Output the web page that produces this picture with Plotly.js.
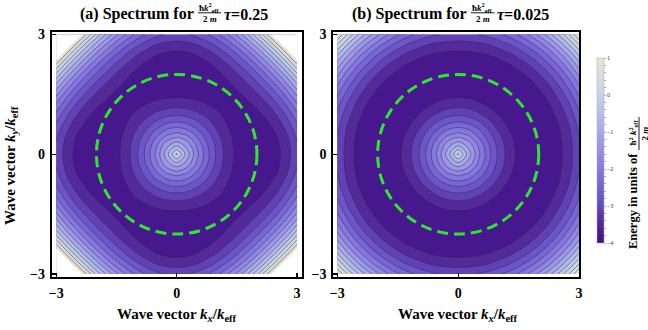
<!DOCTYPE html>
<html>
<head>
<meta charset="utf-8">
<script src="https://cdn.plot.ly/plotly-3.0.1.min.js"></script>
<style>
html, body { margin: 0; padding: 0; background: #ffffff; }
#chart { width: 648px; height: 330px; }
</style>
</head>
<body>
<div id="chart"></div>
<script>
// ---------------- data ----------------
// grid of one quadrant, wave vector in units of k_eff (mirrored to the other quadrants)
const kQuadrant = [0, 0.25, 0.5, 0.75, 1, 1.25, 1.5, 1.75, 2, 2.25, 2.5, 2.75, 3];

// energy (units of hbar^2 k_eff^2 / 2m), row i = larger |k| index, column j <= i
// panel (a): tau = 0.25
const energyPanelA = [
  [0],
  [-0.94, -1.29],
  [-1.75, -1.92, -2.32],
  [-2.44, -2.53, -2.78, -3.09],
  [-3.00, -3.05, -3.20, -3.39, -3.58],
  [-3.44, -3.47, -3.54, -3.64, -3.73, -3.79],
  [-3.75, -3.76, -3.79, -3.81, -3.82, -3.80, -3.71],
  [-3.94, -3.93, -3.92, -3.89, -3.83, -3.72, -3.56, -3.33],
  [-4.00, -3.99, -3.94, -3.86, -3.74, -3.57, -3.33, -3.03, -2.64],
  [-3.94, -3.91, -3.84, -3.72, -3.55, -3.31, -3.01, -2.63, -2.17, -1.62],
  [-3.75, -3.72, -3.63, -3.47, -3.25, -2.96, -2.59, -2.14, -1.60, -0.97, -0.25],
  [-3.44, -3.40, -3.29, -3.10, -2.84, -2.49, -2.06, -1.54, -0.93, -0.22, 0.58, 1.49],
  [-3.00, -2.96, -2.83, -2.61, -2.31, -1.91, -1.42, -0.84, -0.16, 0.63, 1.51, 2.51, 3.61]
];
// panel (b): tau = 0.025
const energyPanelB = [
  [0],
  [-0.94, -1.29],
  [-1.75, -1.92, -2.33],
  [-2.44, -2.54, -2.79, -3.12],
  [-3.00, -3.06, -3.22, -3.44, -3.66],
  [-3.44, -3.47, -3.57, -3.71, -3.84, -3.95],
  [-3.75, -3.77, -3.82, -3.90, -3.96, -4.00, -3.99],
  [-3.94, -3.95, -3.97, -3.99, -4.00, -3.98, -3.91, -3.77],
  [-4.00, -4.00, -4.00, -3.98, -3.94, -3.87, -3.75, -3.57, -3.31],
  [-3.94, -3.93, -3.91, -3.86, -3.79, -3.67, -3.50, -3.28, -2.98, -2.60],
  [-3.75, -3.74, -3.70, -3.63, -3.52, -3.37, -3.16, -2.89, -2.56, -2.14, -1.64],
  [-3.44, -3.42, -3.37, -3.28, -3.14, -2.96, -2.72, -2.41, -2.04, -1.59, -1.05, -0.43],
  [-3.00, -2.98, -2.92, -2.81, -2.65, -2.44, -2.17, -1.83, -1.42, -0.94, -0.37, 0.28, 1.03]
];

const panelLetters = ['(a)', '(b)'];
const tauLabels = ['0.25', '0.025'];
const ringRadius = [2];
const axisTicks = [-3, 0, 3];
const axisTickText = ['\u22123', '0', '3'];
const colorbarRange = [-4, 1];
const contourCount = 13;               // contour lines evenly spread inside the plotted energy range
const clipLevel = [1];
const colorbarTicks = [-4, -3.8, -3.6, -3.4, -3.2, -3, -2.8, -2.6, -2.4, -2.2, -2, -1.8, -1.6, -1.4, -1.2, -1,
                       -0.8, -0.6, -0.4, -0.2, 0, 0.2, 0.4, 0.6, 0.8, 1];
const colorbarLabeled = [-4, -3, -2, -1, 0, 1];

// colour palette (value -> colour)
const palette = [
  [-4.0, '#410e88'], [-3.5, '#532897'], [-3.0, '#6448bf'], [-2.5, '#7561d2'],
  [-2.0, '#8679e0'], [-1.5, '#968fe6'], [-1.0, '#a6a8ea'], [-0.5, '#b5bee9'],
  [0.0, '#c5d3e6'], [0.5, '#d8dcdb'], [1.0, '#efe2c8']
];

// ---------------- helpers ----------------
const W = 648, H = 330;
const FONT = 'Liberation Serif';
const px = v => v / W;
const py = v => 1 - v / H;

const levelStep = (colorbarRange[1] - colorbarRange[0]) / (contourCount + 1);
const levelStart = colorbarRange[0] + levelStep;
const levelEnd = colorbarRange[1] - levelStep;

function hexToRgb(h) {
  return [parseInt(h.slice(1, 3), 16), parseInt(h.slice(3, 5), 16), parseInt(h.slice(5, 7), 16)];
}
function paletteAt(v) {
  if (v <= palette[0][0]) return palette[0][1];
  for (let i = 1; i < palette.length; i++) {
    if (v <= palette[i][0]) {
      const v0 = palette[i - 1][0], v1 = palette[i][0];
      const a = hexToRgb(palette[i - 1][1]), b = hexToRgb(palette[i][1]);
      const f = (v - v0) / (v1 - v0);
      return 'rgb(' + a.map((x, k) => Math.round(x + (b[k] - x) * f)).join(',') + ')';
    }
  }
  return palette[palette.length - 1][1];
}

// mirror the quadrant triangle into the full grid
const nQ = kQuadrant.length;
const kFull = kQuadrant.slice(1).reverse().map(v => -v).concat(kQuadrant);
function fullGrid(tri) {
  const z = [];
  for (let r = 0; r < 2 * nQ - 1; r++) {
    const iy = Math.abs(r - (nQ - 1));
    const row = [];
    for (let c = 0; c < 2 * nQ - 1; c++) {
      const ix = Math.abs(c - (nQ - 1));
      row.push(tri[Math.max(ix, iy)][Math.min(ix, iy)]);
    }
    z.push(row);
  }
  return z;
}

// band colours: each band takes the palette colour at its mid value
const nLevels = Math.round((levelEnd - levelStart) / levelStep) + 1;
const contourScale = [];
for (let j = 0; j <= nLevels; j++) {
  contourScale.push([j / nLevels, paletteAt(levelStart + (j - 0.5) * levelStep)]);
}
const barScale = palette.map(p => [(p[0] - colorbarRange[0]) / (colorbarRange[1] - colorbarRange[0]), p[1]]);
const clipScale = [[0, 'rgba(255,255,255,0)'], [0.5, 'rgba(255,255,255,0)'], [0.5, 'rgb(255,255,255)'], [1, 'rgb(255,255,255)']];

// ---------------- traces ----------------
const grids = [fullGrid(energyPanelA), fullGrid(energyPanelB)];
const axNames = [['x', 'y'], ['x2', 'y2']];
const traces = [];
grids.forEach((z, p) => {
  traces.push({
    type: 'contour', x: kFull, y: kFull, z: z,
    xaxis: axNames[p][0], yaxis: axNames[p][1],
    autocontour: false,
    contours: { start: levelStart, end: levelEnd + levelStep * 1e-3, size: levelStep, coloring: 'fill', showlines: true },
    line: { color: 'rgba(45,45,55,0.6)', width: 0.8, smoothing: 1 },
    colorscale: contourScale, showscale: false, hoverinfo: 'skip'
  });
  traces.push({
    type: 'contour', x: kFull, y: kFull, z: z,
    xaxis: axNames[p][0], yaxis: axNames[p][1],
    autocontour: false,
    contours: { start: clipLevel[0], end: clipLevel[0], size: 1, coloring: 'fill', showlines: false },
    line: { width: 0, smoothing: 1 },
    colorscale: clipScale, showscale: false, hoverinfo: 'skip'
  });
});
// continuous colour bar
traces.push({
  type: 'heatmap', x: [0, 1], y: [0], z: [colorbarRange],
  xaxis: 'x3', yaxis: 'y3',
  zmin: colorbarRange[0], zmax: colorbarRange[1],
  colorscale: barScale, showscale: true, hoverinfo: 'skip',
  colorbar: {
    x: px(597), xanchor: 'left', xpad: 0,
    y: py(150.5), yanchor: 'middle', ypad: 0,
    len: 185 / H, lenmode: 'fraction',
    thickness: 7, thicknessmode: 'pixels',
    outlinewidth: 0.5, outlinecolor: '#aaaaaa',
    tickmode: 'array', tickvals: colorbarTicks,
    ticktext: colorbarTicks.map(v => colorbarLabeled.includes(v) ? (v < 0 ? '\u2212' + Math.abs(v) : String(v)) : ''),
    ticks: 'outside', ticklen: 2, tickwidth: 0.6, tickcolor: '#777777',
    tickfont: { family: FONT, size: 6, color: '#333333' }
  }
});

// ---------------- layout ----------------
const tickFont = { family: FONT, size: 14, color: '#000000', weight: 'bold' };
function axisStyle(extra) {
  return Object.assign({
    tickmode: 'array', tickvals: axisTicks, ticktext: axisTickText,
    ticks: 'inside', ticklen: 4, tickwidth: 1.2, tickcolor: '#000000',
    showline: true, linewidth: 2, linecolor: '#000000', mirror: true,
    showgrid: false, zeroline: false, tickfont: tickFont, fixedrange: true,
    ticklabelstandoff: 2
  }, extra);
}
function ann(text, x, y, size, extra) {
  return Object.assign({
    xref: 'paper', yref: 'paper', x: px(x), y: py(y), text: text, showarrow: false,
    xanchor: 'center', yanchor: 'middle', borderpad: 0,
    font: { family: FONT, size: size, color: '#000000', weight: 'bold' }
  }, extra || {});
}
function hline(x0, x1, y) {
  return { type: 'line', xref: 'paper', yref: 'paper', x0: px(x0), x1: px(x1), y0: py(y), y1: py(y),
           line: { color: '#000000', width: 0.9 } };
}

const yDomain = [(H - 277) / H, (H - 31.5) / H];
const titlePos = [
  { right: 195, frac: 209.5, fracL: 198, fracR: 221, tau: 223 },
  { right: 468, frac: 482.5, fracL: 471, fracR: 494.5, tau: 496 }
];
const xTitleCenters = [176.5, 458];

const annotations = [];
const shapes = [];
for (let p = 0; p < 2; p++) {
  const t = titlePos[p];
  annotations.push(ann(panelLetters[p] + ' Spectrum for', t.right, 14, 16, { xanchor: 'right' }));
  annotations.push(ann('\u0127<i>k</i><sup>2</sup><sub>eff</sub>', t.frac, 7, 9));
  annotations.push(ann('2 <i>m</i>', t.frac, 19.5, 9));
  annotations.push(ann('<i>\u03c4</i>=' + tauLabels[p], t.tau, 14, 16, { xanchor: 'left' }));
  shapes.push(hline(t.fracL, t.fracR, 12.8));
  annotations.push(ann('Wave vector <i>k</i><sub><i>x</i></sub>/<i>k</i><sub>eff</sub>', xTitleCenters[p], 315, 15));
  shapes.push({
    type: 'circle', xref: axNames[p][0], yref: axNames[p][1],
    x0: -ringRadius[0], x1: ringRadius[0], y0: -ringRadius[0], y1: ringRadius[0],
    line: { color: '#2ee82e', width: 3, dash: '11px,6px' }, layer: 'above'
  });
}
annotations.push(ann('Wave vector <i>k</i><sub><i>y</i></sub>/<i>k</i><sub>eff</sub>', 11, 166, 15, { textangle: -90 }));
// colour bar title
annotations.push(ann('Energy in units of', 633, 201, 12.5, { textangle: -90 }));
annotations.push(ann('\u0127<sup>2</sup> <i>k</i><sup>2</sup><sub>eff</sub>', 632.5, 133, 9, { textangle: -90 }));
annotations.push(ann('2 <i>m</i>', 644.5, 134, 9, { textangle: -90 }));
shapes.push({ type: 'line', xref: 'paper', yref: 'paper', x0: px(639), x1: px(639), y0: py(117), y1: py(150),
              line: { color: '#000000', width: 0.9 } });

const layout = {
  width: W, height: H,
  margin: { l: 0, r: 0, t: 0, b: 0, pad: 0 },
  paper_bgcolor: '#ffffff', plot_bgcolor: '#ffffff',
  showlegend: false,
  xaxis: axisStyle({ domain: [px(51.7), px(301.7)], range: [-3.115, 3.115], anchor: 'y' }),
  yaxis: axisStyle({ domain: yDomain, range: [-3.075, 3.075], anchor: 'x' }),
  xaxis2: axisStyle({ domain: [px(333.3), px(579)], range: [-3.1, 3.0], anchor: 'y2' }),
  yaxis2: axisStyle({ domain: yDomain, range: [-3.075, 3.075], anchor: 'x2' }),
  xaxis3: { domain: [0.99, 1], range: [10, 11], visible: false, anchor: 'y3', fixedrange: true },
  yaxis3: { domain: [0.99, 1], range: [10, 11], visible: false, anchor: 'x3', fixedrange: true },
  annotations: annotations,
  shapes: shapes
};

Plotly.newPlot('chart', traces, layout, { displayModeBar: false, staticPlot: true });
</script>
</body>
</html>
